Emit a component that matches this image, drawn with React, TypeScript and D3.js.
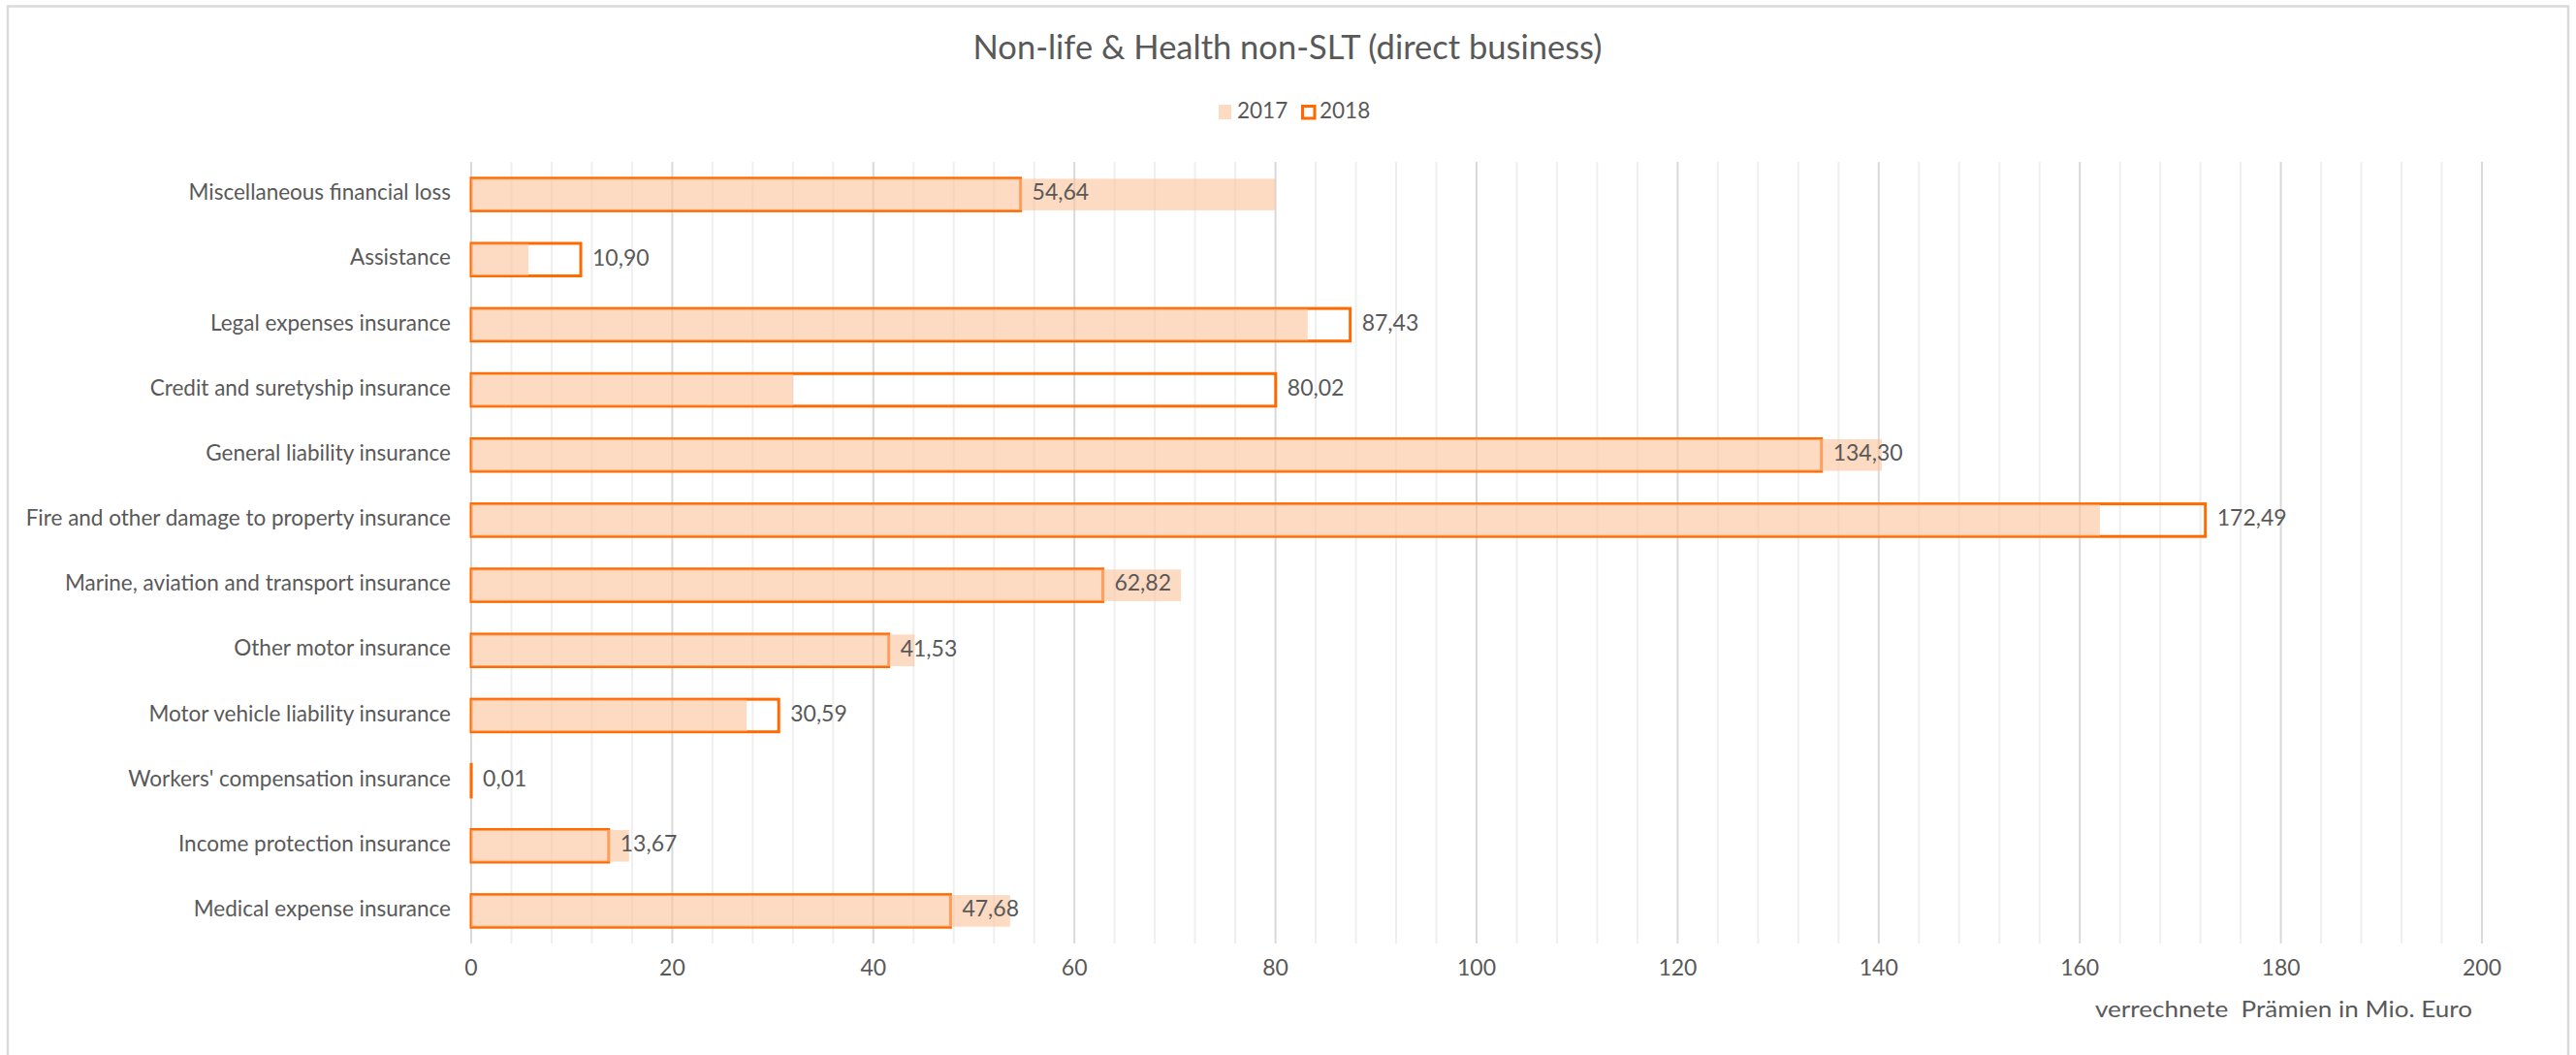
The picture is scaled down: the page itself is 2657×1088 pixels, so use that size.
import React from "react";
import * as d3 from "d3";

const categories = [
  "Miscellaneous financial loss",
  "Assistance",
  "Legal expenses insurance",
  "Credit and suretyship insurance",
  "General liability insurance",
  "Fire and other damage to property insurance",
  "Marine, aviation and transport insurance",
  "Other motor insurance",
  "Motor vehicle liability insurance",
  "Workers' compensation insurance",
  "Income protection insurance",
  "Medical expense insurance",
];
const values2017 = [80.0, 5.7, 83.2, 32.0, 140.3, 162.0, 70.6, 44.1, 27.4, 0, 15.7, 53.6];
const values2018 = [54.64, 10.9, 87.43, 80.02, 134.3, 172.49, 62.82, 41.53, 30.59, 0.01, 13.67, 47.68];
const majorTicks = [0, 20, 40, 60, 80, 100, 120, 140, 160, 180, 200];
const minorTicks = d3.range(0, 201, 4);
const seriesNames = ["2017", "2018"];
const title = "Non-life & Health non-SLT (direct business)";
const axisTitle = "verrechnete  Prämien in Mio. Euro";

const W = 2657;
const H = 1088;
const FONT = "Lato, 'Open Sans', sans-serif";
const TEXT = "#595959";
const ORANGE = "#FF6A00";
const PEACH = "#FBC29A";

export default function App() {
  const x = d3.scaleLinear().domain([0, 200]).range([486, 2560]);
  const y = d3
    .scaleBand<string>()
    .domain(categories)
    .range([167, 973])
    .paddingInner(0.5)
    .paddingOuter(0.25);
  const bw = y.bandwidth();
  const fmt = (v: number) => d3.format(".2f")(v).replace(".", ",");
  const top = 167;
  const bottom = 973;

  return (
    <svg
      width={W}
      height={H}
      style={{ position: "absolute", left: 0, top: 0, background: "#fff" }}
      fontFamily={FONT}
    >
      <rect x={0} y={0} width={W} height={H} fill="#fff" />
      <rect x={8} y={6.5} width={2641} height={1100} fill="none" stroke="#D9D9D9" strokeWidth={2.5} />

      <text x={1328} y={52} textAnchor="middle" dominantBaseline="middle" fontSize={34.5} fill={TEXT}>
        {title}
      </text>

      {/* legend */}
      <g>
        <rect x={1257} y={108} width={13} height={15} fill={PEACH} fillOpacity={0.6} />
        <text x={1276} y={116} dominantBaseline="middle" fontSize={22.5} fill={TEXT}>
          {seriesNames[0]}
        </text>
        <rect x={1343.5} y={109.5} width={12.5} height={12.5} fill="none" stroke={ORANGE} strokeWidth={3} />
        <text x={1361} y={116} dominantBaseline="middle" fontSize={22.5} fill={TEXT}>
          {seriesNames[1]}
        </text>
      </g>

      {/* gridlines */}
      {minorTicks
        .filter((t) => t % 20 !== 0)
        .map((t) => (
          <line key={"m" + t} x1={x(t)} x2={x(t)} y1={top} y2={bottom} stroke="#EFEFEF" strokeWidth={2} />
        ))}
      {majorTicks.map((t) => (
        <line key={"M" + t} x1={x(t)} x2={x(t)} y1={top} y2={bottom} stroke="#D9D9D9" strokeWidth={2} />
      ))}

      {/* tick labels */}
      {majorTicks.map((t) => (
        <text key={"t" + t} x={x(t)} y={1000} textAnchor="middle" dominantBaseline="middle" fontSize={23} fill={TEXT}>
          {t}
        </text>
      ))}
      <text
        x={2161}
        y={1043}
        dominantBaseline="middle"
        fontSize={23}
        fill={TEXT}
        textLength={389}
        lengthAdjust="spacingAndGlyphs"
        style={{ whiteSpace: "pre" }}
      >
        {axisTitle}
      </text>

      {/* category labels */}
      {categories.map((c) => (
        <text
          key={"c" + c}
          x={465}
          y={(y(c) as number) + bw / 2}
          textAnchor="end"
          dominantBaseline="middle"
          fontSize={22.5}
          fill={TEXT}
        >
          {c}
        </text>
      ))}

      {/* 2018 outline bars */}
      {categories.map((c, i) => (
        <rect
          key={"b18" + c}
          x={x(0)}
          y={y(c)}
          width={Math.max(0.1, x(values2018[i]) - x(0))}
          height={bw}
          fill="none"
          stroke={ORANGE}
          strokeWidth={3}
        />
      ))}

      {/* 2017 filled bars */}
      {categories.map((c, i) => (
        <rect
          key={"b17" + c}
          x={x(0)}
          y={(y(c) as number) + 0.5}
          width={x(values2017[i]) - x(0)}
          height={bw - 1}
          fill={PEACH}
          fillOpacity={0.6}
        />
      ))}

      {/* data labels */}
      {categories.map((c, i) => (
        <text
          key={"l" + c}
          x={x(values2018[i]) + 12}
          y={(y(c) as number) + bw / 2}
          dominantBaseline="middle"
          fontSize={23}
          fill={TEXT}
        >
          {fmt(values2018[i])}
        </text>
      ))}
    </svg>
  );
}
